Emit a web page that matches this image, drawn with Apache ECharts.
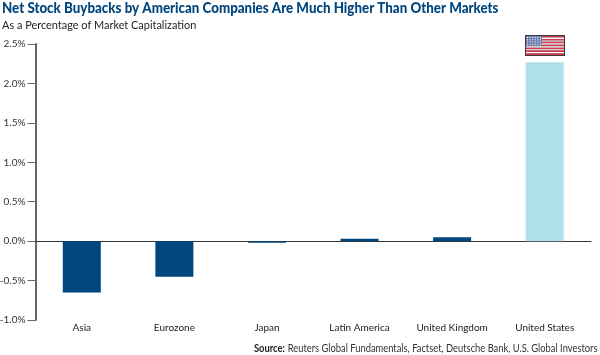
<!DOCTYPE html>
<html>
<head>
<meta charset="utf-8">
<style>html,body{margin:0;padding:0;background:#fff}#chart{width:600px;height:355px}</style>
<script src="https://cdn.jsdelivr.net/npm/echarts@6/dist/echarts.min.js"></script>
</head>
<body>
<div id="chart"></div>
<script>
const categories = ['Asia', 'Eurozone', 'Japan', 'Latin America', 'United Kingdom', 'United States'];
const buybacks = [-0.65, -0.45, -0.02, 0.03, 0.05, 2.27];
const barColors = ['#00467f', '#00467f', '#00467f', '#00467f', '#00467f', '#aedfea'];
const titleText = 'Net Stock Buybacks by American Companies Are Much Higher Than Other Markets';
const subtitleText = 'As a Percentage of Market Capitalization';
const sourceText = 'Reuters Global Fundamentals, Factset, Deutsche Bank, U.S. Global Investors';
const fontName = 'Lato';

const chart = echarts.init(document.getElementById('chart'), null, { renderer: 'canvas' });

// flag stripes, 13 rows over the 38x19 flag body
const flagX = 526, flagY = 36, flagW = 38, flagH = 19;
const flagParts = [{ type: 'rect', shape: { x: flagX - 1, y: flagY - 1, width: flagW + 2, height: flagH + 2 }, style: { fill: '#3a3a3a' } }];
for (let i = 0; i < 13; i++) {
    flagParts.push({
        type: 'rect',
        shape: { x: flagX, y: flagY + i * flagH / 13, width: flagW, height: flagH / 13 },
        style: { fill: i % 2 === 0 ? '#d8344a' : '#ffffff' }
    });
}
flagParts.push({ type: 'rect', shape: { x: flagX, y: flagY, width: 16, height: 10 }, style: { fill: '#6d7fae' } });
for (let r = 0; r < 4; r++) {
    for (let c = 0; c < 6; c++) {
        flagParts.push({ type: 'rect', shape: { x: flagX + 1 + c * 2.6, y: flagY + 1 + r * 2.3, width: 1, height: 1 }, style: { fill: '#ffffff' } });
    }
}

chart.setOption({
    animation: false,
    backgroundColor: '#ffffff',
    textStyle: { fontFamily: fontName },
    grid: { left: 35.5, right: 9, top: 44, bottom: 35, outerBoundsMode: 'none' },
    xAxis: {
        type: 'category',
        data: categories,
        axisLine: { onZero: true, lineStyle: { color: '#333333', width: 1 } },
        axisTick: { show: false },
        axisLabel: { color: '#222222', fontSize: 10, fontFamily: fontName, interval: 0, margin: 3 }
    },
    yAxis: {
        type: 'value',
        min: -1,
        max: 2.5,
        interval: 0.5,
        splitLine: { show: false },
        axisLine: { show: true, lineStyle: { color: '#666666', width: 2 } },
        axisTick: { show: true, length: 8, lineStyle: { color: '#666666', width: 1 } },
        axisLabel: { color: '#333333', fontSize: 10, fontFamily: fontName, margin: 10, formatter: v => v.toFixed(1) + '%' }
    },
    series: [{
        type: 'bar',
        barWidth: 38,
        data: buybacks.map((value, i) => ({ value, itemStyle: { color: barColors[i] } }))
    }],
    graphic: [
        { type: 'group', children: flagParts },
        {
            type: 'text', x: 2, y: 1, scaleX: 0.889,
            style: { text: titleText, fill: '#00467f', fontFamily: fontName, fontWeight: 900, fontSize: 15 }
        },
        {
            type: 'text', x: 2, y: 19, scaleX: 0.91,
            style: { text: subtitleText, fill: '#222222', fontFamily: fontName, fontSize: 12 }
        },
        {
            type: 'text', x: 254, y: 342, scaleX: 0.85,
            style: {
                rich: {
                    b: { fontWeight: 'bold', fontSize: 11, fill: '#222222', fontFamily: fontName },
                    n: { fontSize: 11, fill: '#333333', fontFamily: fontName }
                },
                text: '{b|Source:} {n|' + sourceText + '}'
            }
        }
    ]
});
</script>
</body>
</html>
